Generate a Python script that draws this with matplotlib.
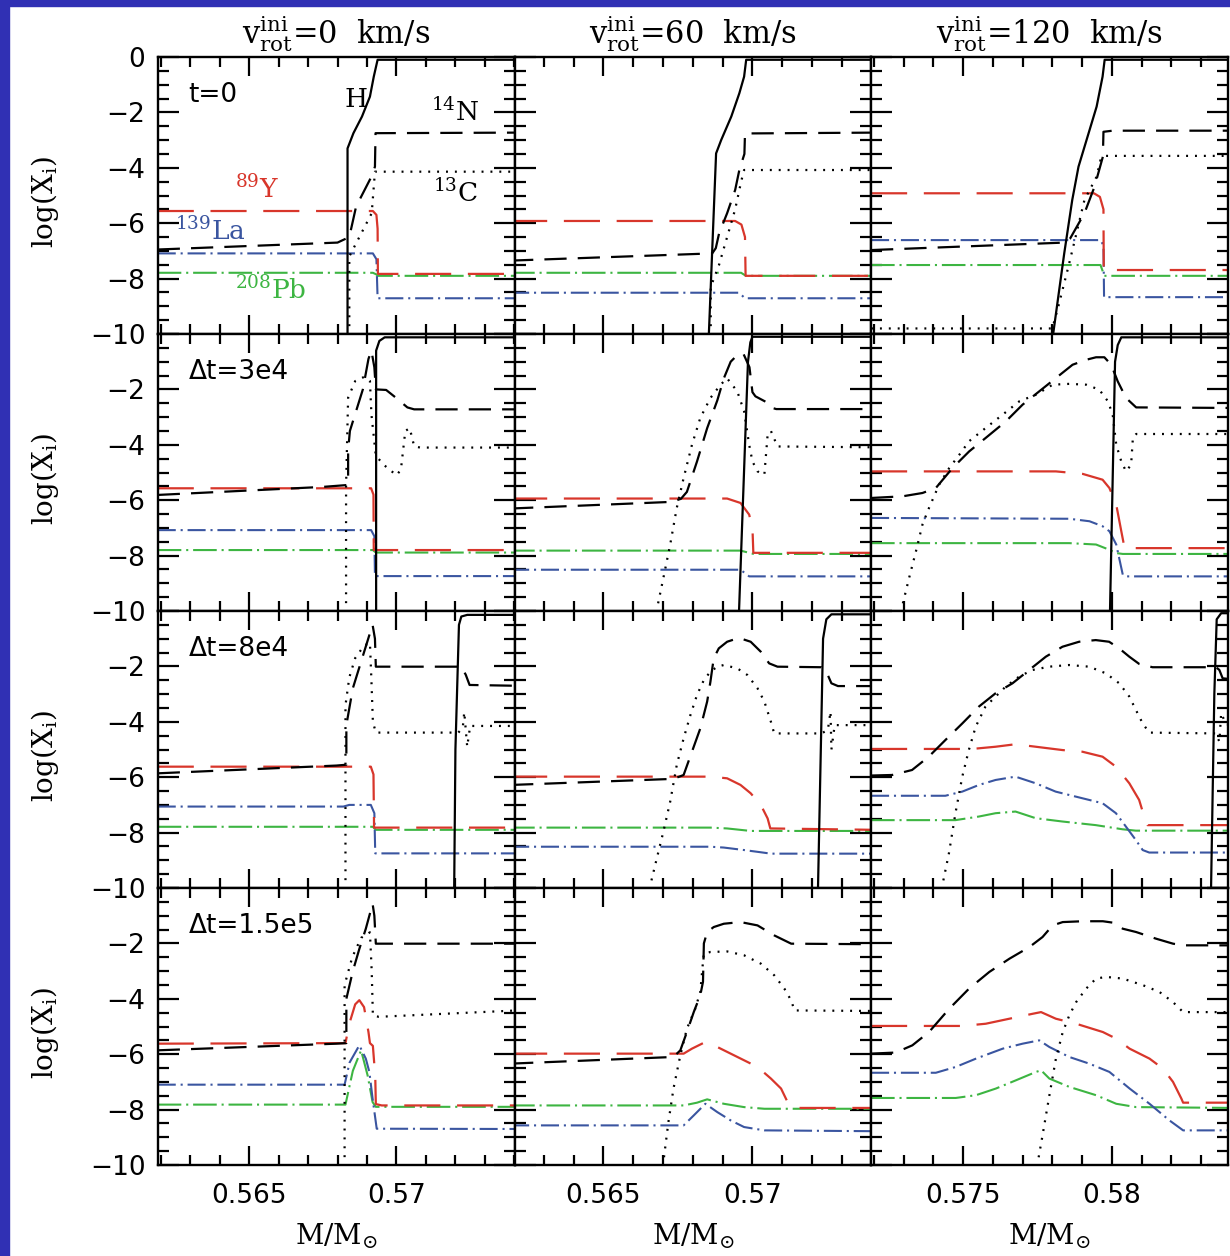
import matplotlib.pyplot as plt
from matplotlib.patches import Rectangle

plt.rcParams['font.family'] = 'DejaVu Sans'
plt.rcParams['mathtext.fontset'] = 'dejavuserif'
plt.rcParams['lines.scale_dashes'] = False

# --- column / row settings ---
VROT = [0, 60, 120]
TIME_LABELS = ['t=0', 'Δt=3e4', 'Δt=8e4', 'Δt=1.5e5']
XLIMS = [(0.56191, 0.57401), (0.56202, 0.57399), (0.57191, 0.58391)]
XMAJOR = [[0.565, 0.570], [0.565, 0.570], [0.575, 0.580]]
XLABELS = [['0.565', '0.57'], ['0.565', '0.57'], ['0.575', '0.58']]

# --- profiles: (M/Msun, log X); name_row_col ---
# row 0: t=0
h_0_0 = [(0.56834, -11), (0.56834, -3.3), (0.56854, -2.75), (0.56883, -2.15), (0.56910, -1.43),
         (0.56923, -0.71), (0.56936, -0.1), (0.5741, -0.1)]
n14_0_0 = [(0.5619, -6.95), (0.5680, -6.7), (0.5684, -6.5), (0.56863, -5.4), (0.56916, -4.3),
           (0.56927, -3.96), (0.56929, -2.75), (0.5741, -2.73)]
c13_0_0 = [(0.5684, -11), (0.5684, -7.2), (0.56916, -5.64), (0.56927, -4.14), (0.5741, -4.14)]
y89_0_0 = [(0.5619, -5.56), (0.5692, -5.56), (0.56932, -5.7), (0.56936, -6.2), (0.56937, -7.83), (0.5741, -7.83)]
la139_0_0 = [(0.5619, -7.09), (0.5692, -7.09), (0.56932, -7.3), (0.56936, -8.71), (0.5741, -8.71)]
pb208_0_0 = [(0.5619, -7.79), (0.5692, -7.79), (0.56932, -7.85), (0.56936, -7.9), (0.5741, -7.9)]

h_0_1 = [(0.5685, -11), (0.56878, -3.48), (0.56895, -3.0), (0.56929, -2.15), (0.56956, -1.31),
         (0.56972, -0.71), (0.56979, -0.1), (0.5741, -0.1)]
n14_0_1 = [(0.5619, -7.35), (0.56865, -7.09), (0.56877, -6.9), (0.56888, -6.37), (0.56915, -5.64),
           (0.56942, -4.8), (0.56956, -4.08), (0.56973, -3.5), (0.56975, -2.76), (0.5741, -2.73)]
c13_0_1 = [(0.5686, -11), (0.5686, -8.3), (0.56888, -7.5), (0.56915, -6.5), (0.56942, -5.5),
           (0.56962, -4.5), (0.56972, -4.08), (0.5741, -4.08)]
y89_0_1 = [(0.5619, -5.92), (0.56942, -5.92), (0.56963, -6.05), (0.56975, -6.5), (0.56977, -7.9), (0.5741, -7.9)]
la139_0_1 = [(0.5619, -8.51), (0.56955, -8.51), (0.56975, -8.71), (0.5741, -8.71)]
pb208_0_1 = [(0.5619, -7.79), (0.56962, -7.79), (0.56978, -7.9), (0.5741, -7.9)]

h_0_2 = [(0.57795, -11), (0.57803, -9.98), (0.5784, -7.09), (0.57867, -5.16), (0.57888, -3.96),
         (0.57915, -3.0), (0.57949, -1.79), (0.57969, -0.71), (0.57976, -0.1), (0.5841, -0.1)]
n14_0_2 = [(0.5719, -6.97), (0.5784, -6.7), (0.5786, -6.55), (0.57908, -5.64), (0.57942, -4.68),
           (0.5797, -3.6), (0.57972, -2.7), (0.58003, -2.66), (0.5841, -2.66)]
c13_0_2 = [(0.5719, -9.8), (0.578, -9.8), (0.5782, -9.01), (0.57854, -7.57), (0.57881, -6.37),
           (0.57908, -5.16), (0.57949, -4.32), (0.57962, -3.72), (0.57976, -3.57), (0.5841, -3.57)]
y89_0_2 = [(0.5719, -4.92), (0.5794, -4.92), (0.5796, -5.05), (0.57972, -5.5), (0.57973, -7.69), (0.5841, -7.69)]
la139_0_2 = [(0.5719, -6.61), (0.57962, -6.61), (0.57972, -6.8), (0.57974, -8.67), (0.5841, -8.67)]
pb208_0_2 = [(0.5719, -7.51), (0.57962, -7.51), (0.57975, -7.9), (0.5841, -7.9)]

# row 1: dt=3e4
h_1_0 = [(0.56931, -11), (0.56931, -0.6), (0.56942, -0.25), (0.5696, -0.12), (0.5741, -0.12)]
n14_1_0 = [(0.5619, -5.81), (0.5675, -5.52), (0.56836, -5.45), (0.56836, -4.2), (0.56842, -3.5),
           (0.56886, -2.0), (0.56905, -0.9), (0.56915, -0.6), (0.56925, -1.2), (0.5693, -2.0),
           (0.56965, -2.02), (0.56998, -2.3), (0.57037, -2.65), (0.5706, -2.72), (0.5741, -2.72)]
c13_1_0 = [(0.56829, -11), (0.56829, -5.5), (0.56836, -2.3), (0.5686, -1.7), (0.5689, -1.55),
           (0.5691, -1.7), (0.56915, -2.9), (0.5693, -4.4), (0.5696, -4.75), (0.5700, -5.1),
           (0.57015, -4.9), (0.5703, -3.5), (0.57045, -3.4), (0.5706, -4.05), (0.5708, -4.1), (0.5741, -4.1)]
y89_1_0 = [(0.5619, -5.57), (0.56914, -5.57), (0.56922, -5.8), (0.56923, -7.8), (0.5741, -7.8)]
la139_1_0 = [(0.5619, -7.08), (0.56914, -7.08), (0.56925, -7.3), (0.56927, -8.74), (0.5741, -8.74)]
pb208_1_0 = [(0.5619, -7.8), (0.5692, -7.8), (0.5693, -7.89), (0.5741, -7.89)]

h_1_1 = [(0.5695, -11), (0.56955, -10), (0.56985, -1.0), (0.56993, -0.3), (0.5700, -0.1), (0.5741, -0.1)]
n14_1_1 = [(0.5619, -6.3), (0.5673, -6.06), (0.5676, -5.95), (0.5678, -5.7), (0.56814, -4.6),
           (0.56848, -3.4), (0.56882, -2.4), (0.56904, -1.6), (0.56927, -1.0), (0.5695, -0.75),
           (0.5697, -0.72), (0.5699, -1.2), (0.5700, -2.1), (0.5701, -2.25), (0.57045, -2.45),
           (0.5706, -2.65), (0.5708, -2.71), (0.5741, -2.71)]
c13_1_1 = [(0.56675, -11), (0.56679, -9.95), (0.56701, -8.81), (0.56724, -7.6), (0.56746, -6.28),
           (0.56769, -5.2), (0.56797, -4.0), (0.56825, -3.03), (0.56859, -2.31), (0.56893, -1.83),
           (0.56915, -1.6), (0.56949, -2.07), (0.56972, -2.79), (0.56989, -4.0), (0.5700, -4.6),
           (0.57017, -4.96), (0.5704, -5.08), (0.57051, -3.63), (0.57062, -3.5), (0.57084, -4.06), (0.5741, -4.09)]
y89_1_1 = [(0.5619, -5.94), (0.56915, -5.94), (0.5696, -6.1), (0.56989, -6.52), (0.5700, -7.0),
           (0.57003, -7.9), (0.5741, -7.9)]
la139_1_1 = [(0.5619, -8.51), (0.5696, -8.51), (0.56989, -8.75), (0.5741, -8.75)]
pb208_1_1 = [(0.5619, -7.82), (0.5696, -7.82), (0.57004, -7.94), (0.5741, -7.94)]

h_1_2 = [(0.5799, -11), (0.57994, -10), (0.58011, -1.0), (0.5802, -0.4), (0.58032, -0.12), (0.5841, -0.12)]
n14_1_2 = [(0.5719, -5.92), (0.57296, -5.86), (0.57363, -5.74), (0.57408, -5.56), (0.57464, -4.84),
           (0.5752, -4.24), (0.57576, -3.75), (0.57644, -3.15), (0.577, -2.55), (0.57756, -2.07),
           (0.57812, -1.59), (0.57868, -1.11), (0.57914, -0.93), (0.57947, -0.84), (0.57975, -0.84),
           (0.57998, -1.11), (0.5802, -1.71), (0.58048, -2.31), (0.58082, -2.65), (0.5841, -2.67)]
c13_1_2 = [(0.57285, -11), (0.57296, -9.77), (0.57318, -8.81), (0.57341, -7.85), (0.57363, -6.88),
           (0.57385, -6.28), (0.57419, -5.44), (0.57453, -4.84), (0.57487, -4.36), (0.5752, -3.87),
           (0.57576, -3.39), (0.57633, -2.91), (0.57689, -2.43), (0.57745, -2.19), (0.57801, -1.83),
           (0.57857, -1.8), (0.57914, -1.83), (0.57958, -2.01), (0.57987, -2.43), (0.58003, -2.91),
           (0.58015, -4.0), (0.58032, -4.6), (0.58048, -4.96), (0.58065, -4.72), (0.58071, -3.75),
           (0.58082, -3.61), (0.5841, -3.61)]
y89_1_2 = [(0.5719, -4.96), (0.57812, -4.96), (0.57902, -5.05), (0.57969, -5.26), (0.57992, -5.56),
           (0.58015, -6.16), (0.58032, -7.12), (0.58043, -7.73), (0.5841, -7.73)]
la139_1_2 = [(0.5719, -6.64), (0.57857, -6.67), (0.57925, -6.76), (0.57969, -6.94), (0.57992, -7.12),
             (0.58015, -7.6), (0.58037, -8.69), (0.58048, -8.75), (0.5841, -8.75)]
pb208_1_2 = [(0.5719, -7.55), (0.57857, -7.55), (0.57947, -7.6), (0.57992, -7.79), (0.58015, -7.91),
             (0.58037, -7.94), (0.5841, -7.94)]

# row 2: dt=8e4
h_2_0 = [(0.57195, -11), (0.5720, -5), (0.57212, -0.5), (0.5722, -0.2), (0.5724, -0.14), (0.5741, -0.14)]
n14_2_0 = [(0.5619, -5.86), (0.56796, -5.58), (0.5683, -5.55), (0.5683, -4.12), (0.56852, -2.79),
           (0.5688, -1.83), (0.56908, -0.87), (0.56919, -0.5), (0.56927, -1.0), (0.5693, -2.01),
           (0.5722, -2.01), (0.57235, -2.3), (0.57248, -2.67), (0.5741, -2.7)]
c13_2_0 = [(0.56827, -11), (0.56827, -3.4), (0.5684, -2.4), (0.5686, -1.7), (0.5689, -1.25),
           (0.5691, -1.15), (0.56915, -2.5), (0.5692, -4.0), (0.5693, -4.39), (0.5721, -4.39),
           (0.57225, -4.2), (0.5723, -3.65), (0.5724, -4.9), (0.5725, -4.15), (0.5741, -4.15)]
y89_2_0 = [(0.5619, -5.62), (0.56913, -5.62), (0.56922, -5.9), (0.56924, -7.82), (0.5741, -7.82)]
la139_2_0 = [(0.5619, -7.06), (0.5682, -7.06), (0.5684, -7.0), (0.56913, -7.0), (0.56925, -7.3),
             (0.56928, -8.75), (0.5741, -8.75)]
pb208_2_0 = [(0.5619, -7.79), (0.5692, -7.79), (0.5693, -7.9), (0.5741, -7.9)]

h_2_1 = [(0.57215, -11), (0.5722, -10), (0.57237, -1.0), (0.57248, -0.3), (0.57265, -0.12), (0.5741, -0.12)]
n14_2_1 = [(0.5619, -6.28), (0.56735, -6.06), (0.56769, -5.92), (0.56797, -5.08), (0.56825, -4.24),
           (0.56848, -3.27), (0.56859, -2.55), (0.5687, -1.71), (0.56887, -1.35), (0.56915, -1.11),
           (0.56949, -0.99), (0.5696, -0.99), (0.56994, -1.11), (0.57028, -1.47), (0.57056, -1.89),
           (0.57084, -2.01), (0.57231, -2.03), (0.57248, -2.19), (0.57265, -2.61), (0.57287, -2.71), (0.5741, -2.71)]
c13_2_1 = [(0.5665, -11), (0.56656, -9.95), (0.56679, -8.93), (0.56701, -7.97), (0.56724, -6.88),
           (0.56746, -5.56), (0.56769, -4.6), (0.56792, -3.75), (0.56814, -3.03), (0.56837, -2.49),
           (0.56859, -2.19), (0.56882, -2.01), (0.56904, -1.95), (0.56949, -2.07), (0.56983, -2.31),
           (0.57017, -2.79), (0.5704, -3.27), (0.57062, -4.0), (0.57073, -4.42), (0.57231, -4.42),
           (0.57253, -4.3), (0.57262, -3.63), (0.57265, -5.0), (0.57276, -4.12), (0.5741, -4.12)]
y89_2_1 = [(0.5619, -5.98), (0.56859, -5.98), (0.56915, -6.04), (0.5696, -6.28), (0.56994, -6.58),
           (0.57028, -7.0), (0.57051, -7.49), (0.5706, -7.85), (0.5741, -7.9)]
la139_2_1 = [(0.5619, -8.51), (0.56859, -8.51), (0.56904, -8.54), (0.56972, -8.63), (0.57028, -8.71),
             (0.57062, -8.76), (0.5741, -8.76)]
pb208_2_1 = [(0.5619, -7.82), (0.56859, -7.82), (0.56915, -7.85), (0.56994, -7.94), (0.5741, -7.94)]

h_2_2 = [(0.5833, -11), (0.58334, -10), (0.58345, -3), (0.58353, -0.3), (0.58368, -0.08), (0.5841, -0.08)]
n14_2_2 = [(0.5719, -5.94), (0.57261, -5.92), (0.57328, -5.74), (0.57384, -5.26), (0.5744, -4.66),
           (0.57497, -4.06), (0.57553, -3.45), (0.57609, -2.97), (0.57666, -2.61), (0.57722, -2.13),
           (0.57778, -1.65), (0.57834, -1.29), (0.5789, -1.11), (0.57946, -1.05), (0.57991, -1.11),
           (0.58025, -1.35), (0.58059, -1.65), (0.58092, -1.91), (0.58137, -2.03), (0.58351, -2.03),
           (0.58362, -2.13), (0.58373, -2.43), (0.5841, -2.47)]
c13_2_2 = [(0.5742, -11), (0.57429, -9.95), (0.57452, -8.75), (0.57474, -7.3), (0.57497, -5.98),
           (0.57519, -5.02), (0.57542, -4.18), (0.57575, -3.45), (0.57609, -3.09), (0.57643, -2.73),
           (0.57688, -2.37), (0.57733, -2.13), (0.57789, -2.01), (0.57856, -1.95), (0.57924, -2.01),
           (0.5798, -2.25), (0.58025, -2.61), (0.58059, -3.09), (0.58081, -3.57), (0.58104, -4.06),
           (0.58126, -4.39), (0.5835, -4.42), (0.58362, -4.72), (0.58368, -3.69), (0.58385, -4.1), (0.5841, -4.1)]
y89_2_2 = [(0.5719, -4.98), (0.5753, -4.98), (0.57609, -4.9), (0.57676, -4.81), (0.57744, -4.9),
           (0.57834, -5.02), (0.57901, -5.08), (0.57969, -5.26), (0.58014, -5.62), (0.58059, -6.22),
           (0.58092, -6.82), (0.58109, -7.42), (0.5812, -7.73), (0.5841, -7.73)]
la139_2_2 = [(0.5719, -6.67), (0.5744, -6.67), (0.57497, -6.52), (0.57553, -6.28), (0.57609, -6.1),
             (0.57676, -5.98), (0.57744, -6.22), (0.57811, -6.52), (0.57901, -6.76), (0.57969, -6.94),
             (0.58014, -7.3), (0.58048, -7.79), (0.58081, -8.27), (0.58104, -8.63), (0.58126, -8.72), (0.5841, -8.72)]
pb208_2_2 = [(0.5719, -7.55), (0.57474, -7.55), (0.57553, -7.42), (0.57609, -7.3), (0.57676, -7.24),
             (0.57744, -7.48), (0.57834, -7.6), (0.57946, -7.73), (0.58036, -7.88), (0.58081, -7.93), (0.5841, -7.93)]

# row 3: dt=1.5e5 (H front is outside the plotted range)
n14_3_0 = [(0.5619, -5.86), (0.56796, -5.62), (0.5683, -5.6), (0.5683, -4.0), (0.56852, -3.0),
           (0.56874, -2.2), (0.56896, -1.47), (0.56919, -0.57), (0.56925, -1.0), (0.5693, -2.01), (0.5741, -2.01)]
c13_3_0 = [(0.56824, -11), (0.56824, -3.5), (0.5685, -2.5), (0.5688, -1.8), (0.5691, -1.6),
           (0.56916, -3.0), (0.5692, -4.6), (0.5694, -4.65), (0.5741, -4.42)]
y89_3_0 = [(0.5619, -5.62), (0.56827, -5.6), (0.5684, -4.9), (0.5686, -4.2), (0.56874, -4.05),
           (0.5689, -4.3), (0.56905, -5.2), (0.5691, -5.6), (0.5692, -5.7), (0.56928, -6.8),
           (0.5693, -7.8), (0.5695, -7.85), (0.5741, -7.85)]
la139_3_0 = [(0.5619, -7.1), (0.56824, -7.1), (0.56841, -6.3), (0.56874, -5.68), (0.56896, -6.16),
             (0.56908, -6.64), (0.56919, -7.6), (0.56933, -8.69), (0.5741, -8.7)]
pb208_3_0 = [(0.5619, -7.82), (0.56827, -7.82), (0.56852, -6.6), (0.5688, -5.86), (0.56902, -6.76),
             (0.56919, -7.73), (0.5693, -7.9), (0.5741, -7.9)]

n14_3_1 = [(0.5619, -6.34), (0.56735, -6.1), (0.56758, -5.86), (0.5678, -5.2), (0.56803, -4.48),
           (0.56825, -3.87), (0.56834, -3.39), (0.56837, -2.0), (0.56848, -1.59), (0.5687, -1.41),
           (0.56904, -1.29), (0.5696, -1.23), (0.57017, -1.35), (0.57073, -1.71), (0.5713, -2.01), (0.5741, -2.03)]
c13_3_1 = [(0.56695, -11), (0.56701, -9.9), (0.56718, -8.45), (0.56735, -7.24), (0.56758, -6.04),
           (0.5678, -5.08), (0.56808, -4.36), (0.56825, -3.75), (0.56834, -2.67), (0.56837, -2.37),
           (0.56859, -2.31), (0.56915, -2.29), (0.56972, -2.43), (0.57028, -2.73), (0.57073, -3.15),
           (0.57107, -3.63), (0.5713, -4.06), (0.57141, -4.42), (0.5741, -4.44)]
y89_3_1 = [(0.5619, -5.98), (0.56769, -5.98), (0.56797, -5.8), (0.56842, -5.56), (0.56882, -5.74),
           (0.56927, -5.98), (0.56972, -6.22), (0.57017, -6.46), (0.57062, -6.88), (0.57096, -7.24),
           (0.57118, -7.73), (0.57135, -7.94), (0.5741, -7.94)]
la139_3_1 = [(0.5619, -8.57), (0.56769, -8.57), (0.56803, -8.21), (0.56842, -7.79), (0.56882, -8.09),
             (0.56927, -8.39), (0.56972, -8.63), (0.5704, -8.75), (0.5741, -8.78)]
pb208_3_1 = [(0.5619, -7.85), (0.56769, -7.85), (0.56814, -7.75), (0.56848, -7.63), (0.56904, -7.79),
             (0.56972, -7.91), (0.5704, -7.97), (0.5741, -7.97)]

n14_3_2 = [(0.5719, -5.98), (0.57273, -5.94), (0.57329, -5.68), (0.57385, -5.2), (0.57453, -4.36),
           (0.5752, -3.63), (0.57588, -3.03), (0.57656, -2.55), (0.57723, -2.13), (0.57767, -1.77),
           (0.57801, -1.35), (0.57835, -1.23), (0.57902, -1.2), (0.5797, -1.2), (0.58003, -1.25),
           (0.58037, -1.47), (0.58082, -1.59), (0.58149, -1.83), (0.58206, -2.01), (0.5824, -2.07), (0.5841, -2.07)]
c13_3_2 = [(0.57745, -11), (0.57751, -9.9), (0.57767, -8.93), (0.5779, -7.49), (0.57812, -6.16),
           (0.57835, -5.2), (0.57857, -4.6), (0.5788, -4.12), (0.57914, -3.63), (0.57947, -3.27),
           (0.57981, -3.21), (0.58037, -3.27), (0.58105, -3.51), (0.5816, -3.75), (0.58206, -4.12),
           (0.5824, -4.48), (0.5841, -4.48)]
y89_3_2 = [(0.5719, -4.98), (0.57498, -4.98), (0.57576, -4.9), (0.57655, -4.72), (0.57734, -4.54),
           (0.57762, -4.48), (0.57812, -4.72), (0.5788, -4.9), (0.5797, -5.2), (0.58015, -5.44),
           (0.5806, -5.8), (0.58127, -6.16), (0.58172, -6.52), (0.58206, -7.0), (0.58234, -7.6),
           (0.5824, -7.75), (0.5841, -7.75)]
la139_3_2 = [(0.5719, -6.67), (0.57408, -6.67), (0.57475, -6.46), (0.57543, -6.16), (0.57633, -5.8),
             (0.577, -5.62), (0.57756, -5.5), (0.5779, -5.74), (0.57857, -6.1), (0.57924, -6.34),
             (0.57992, -6.64), (0.5806, -7.24), (0.58127, -7.79), (0.58194, -8.39), (0.5824, -8.75), (0.5841, -8.75)]
pb208_3_2 = [(0.5719, -7.58), (0.57475, -7.58), (0.57543, -7.48), (0.5761, -7.24), (0.57678, -6.94),
             (0.57745, -6.64), (0.57762, -6.58), (0.5779, -6.88), (0.57857, -7.18), (0.57947, -7.48),
             (0.58015, -7.79), (0.58082, -7.91), (0.5841, -7.94)]

PANELS = {
    (0, 0): dict(h=h_0_0, n14=n14_0_0, c13=c13_0_0, y89=y89_0_0, la139=la139_0_0, pb208=pb208_0_0),
    (0, 1): dict(h=h_0_1, n14=n14_0_1, c13=c13_0_1, y89=y89_0_1, la139=la139_0_1, pb208=pb208_0_1),
    (0, 2): dict(h=h_0_2, n14=n14_0_2, c13=c13_0_2, y89=y89_0_2, la139=la139_0_2, pb208=pb208_0_2),
    (1, 0): dict(h=h_1_0, n14=n14_1_0, c13=c13_1_0, y89=y89_1_0, la139=la139_1_0, pb208=pb208_1_0),
    (1, 1): dict(h=h_1_1, n14=n14_1_1, c13=c13_1_1, y89=y89_1_1, la139=la139_1_1, pb208=pb208_1_1),
    (1, 2): dict(h=h_1_2, n14=n14_1_2, c13=c13_1_2, y89=y89_1_2, la139=la139_1_2, pb208=pb208_1_2),
    (2, 0): dict(h=h_2_0, n14=n14_2_0, c13=c13_2_0, y89=y89_2_0, la139=la139_2_0, pb208=pb208_2_0),
    (2, 1): dict(h=h_2_1, n14=n14_2_1, c13=c13_2_1, y89=y89_2_1, la139=la139_2_1, pb208=pb208_2_1),
    (2, 2): dict(h=h_2_2, n14=n14_2_2, c13=c13_2_2, y89=y89_2_2, la139=la139_2_2, pb208=pb208_2_2),
    (3, 0): dict(n14=n14_3_0, c13=c13_3_0, y89=y89_3_0, la139=la139_3_0, pb208=pb208_3_0),
    (3, 1): dict(n14=n14_3_1, c13=c13_3_1, y89=y89_3_1, la139=la139_3_1, pb208=pb208_3_1),
    (3, 2): dict(n14=n14_3_2, c13=c13_3_2, y89=y89_3_2, la139=la139_3_2, pb208=pb208_3_2),
}

RED, BLUE, GREEN = '#D8362B', '#3A55A0', '#3DB542'
STYLES = {
    'pb208': dict(color=GREEN, lw=1.5, dashes=(17, 3.5, 1.5, 3.5)),
    'la139': dict(color=BLUE, lw=1.5, dashes=(13, 3.5, 1.5, 3.5)),
    'y89':   dict(color=RED, lw=1.6, dashes=(26, 12)),
    'c13':   dict(color='black', lw=1.6, dashes=(1.4, 5.0)),
    'n14':   dict(color='black', lw=1.6, dashes=(16, 8)),
    'h':     dict(color='black', lw=1.6),
}

W, H = 1230, 1256
fig = plt.figure(figsize=(W / 100, H / 100), dpi=100)
gs = fig.add_gridspec(4, 3, left=158 / W, right=1228 / W, top=1 - 57 / H,
                      bottom=1 - 1165 / H, wspace=0, hspace=0)

# slide background strips
fig.patches.append(Rectangle((0, 0), 9 / W, 1, transform=fig.transFigure,
                             color='#3030B4', zorder=-1))
fig.patches.append(Rectangle((0, 1 - 6 / H), 1, 6 / H, transform=fig.transFigure,
                             color='#3030B4', zorder=-1))

serif = 'DejaVu Serif'
for r in range(4):
    for c in range(3):
        ax = fig.add_subplot(gs[r, c])
        for key, st in STYLES.items():
            pts = PANELS[(r, c)].get(key)
            if pts is None:
                continue
            xs = [p[0] for p in pts]
            ys = [p[1] for p in pts]
            ax.plot(xs, ys, **st)

        ax.set_xlim(*XLIMS[c])
        ax.set_ylim(-10, 0)
        ax.set_xticks(XMAJOR[c])
        ax.set_xticks([round(XLIMS[c][0] + 0.00009 + k * 0.001, 3) for k in range(13)
                       if XLIMS[c][0] < round(XLIMS[c][0] + 0.00009 + k * 0.001, 3) < XLIMS[c][1]],
                      minor=True)
        ax.set_yticks([0, -2, -4, -6, -8, -10])
        ax.set_yticks([-0.5 * k for k in range(1, 20) if k % 4], minor=True)
        ax.set_xticklabels(XLABELS[c] if r == 3 else ['', ''])
        if c == 0:
            ax.set_yticklabels(['0' if r == 0 else '', '−2', '−4', '−6', '−8', '−10'])
        else:
            ax.set_yticklabels([])
        ax.tick_params(which='both', direction='in', top=True, right=True, width=1.6,
                       labelsize=19)
        ax.tick_params(axis='y', which='major', length=15, pad=9)
        ax.tick_params(axis='y', which='minor', length=8)
        ax.tick_params(axis='x', which='major', length=14, pad=13)
        ax.tick_params(axis='x', which='minor', length=7)
        for sp in ax.spines.values():
            sp.set_linewidth(1.7)

        if c == 0:
            ax.text(0.085, 0.862, TIME_LABELS[r], transform=ax.transAxes,
                    fontsize=19, ha='left', va='center')
        if r == 0:
            ax.set_title(r'$\mathrm{v}_{\mathrm{rot}}^{\mathrm{ini}}$' + f'={VROT[c]}  km/s',
                         family=serif, fontsize=22, pad=10)
        if r == 0 and c == 0:
            ax.text(0.554, 0.848, 'H', transform=ax.transAxes, family=serif, fontsize=19,
                    ha='center', va='center')
            ax.text(0.834, 0.80, r'$^{14}$N', transform=ax.transAxes, family=serif,
                    fontsize=19, ha='center', va='center')
            ax.text(0.833, 0.509, r'$^{13}$C', transform=ax.transAxes, family=serif,
                    fontsize=19, ha='center', va='center')
            ax.text(0.279, 0.522, r'$^{89}$Y', transform=ax.transAxes, family=serif,
                    fontsize=19, ha='center', va='center', color=RED)
            ax.text(0.148, 0.37, r'$^{139}$La', transform=ax.transAxes, family=serif,
                    fontsize=19, ha='center', va='center', color=BLUE)
            ax.text(0.317, 0.157, r'$^{208}$Pb', transform=ax.transAxes, family=serif,
                    fontsize=19, ha='center', va='center', color=GREEN)

# axis labels
for r in range(4):
    yc = 1 - (57 + 277 * r + 145) / H
    fig.text(45 / W, yc, r'log(X$_{\rm i}$)', family=serif, fontsize=20,
             rotation=90, ha='center', va='center')
col_w = (1228 - 158) / 3
for c in range(3):
    xc = (158 + col_w * (c + 0.5)) / W
    fig.text(xc, 1 - 1236 / H, r'M/M$_{\odot}$', family=serif, fontsize=20,
             ha='center', va='center')

fig.savefig('out.png', dpi=100)
